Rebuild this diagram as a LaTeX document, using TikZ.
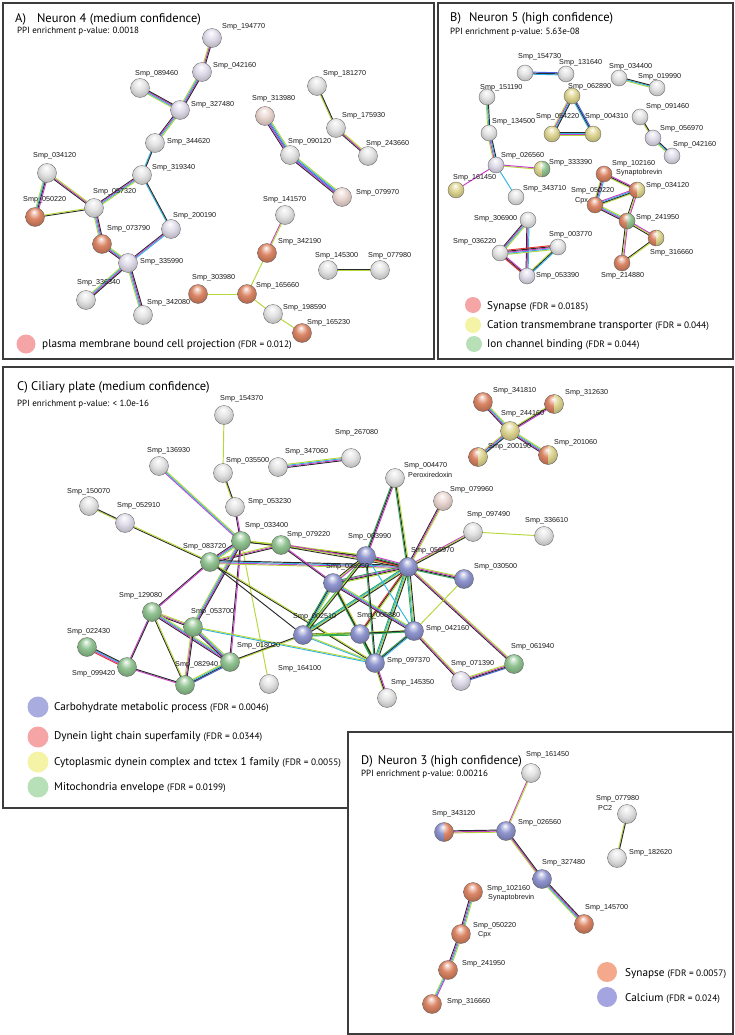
\documentclass[tikz,border=0pt]{standalone}
\usepackage{fontspec}
\setmainfont{Liberation Sans}
\newfontfamily\myr{PT Sans}
\usetikzlibrary{calc}
\pgfdeclarelayer{frames}
\pgfdeclarelayer{edges}
\pgfsetlayers{frames,edges,main}
\definecolor{ek}{HTML}{2A2A2A}
\definecolor{em}{HTML}{C840C8}
\definecolor{ec}{HTML}{30B4E6}
\definecolor{el}{HTML}{B4D838}
\definecolor{eb}{HTML}{4862E0}
\definecolor{er}{HTML}{E63232}
\definecolor{eg}{HTML}{2EA652}
\definecolor{nw}{HTML}{E2E2E2}
\definecolor{ntp}{HTML}{E8D4CE}
\definecolor{ntv}{HTML}{DEDAE8}
\definecolor{nred}{HTML}{D9805F}
\definecolor{nyel}{HTML}{DCD38C}
\definecolor{ngrn}{HTML}{8CC08C}
\definecolor{nblu}{HTML}{8A90CC}
\definecolor{lpink}{HTML}{F5A5A5}
\definecolor{lyel}{HTML}{F5F3A5}
\definecolor{lgrn}{HTML}{B8E0B8}
\definecolor{lblu}{HTML}{A8ACDE}
\definecolor{lsal}{HTML}{F5A98C}
\definecolor{lcal}{HTML}{A4A4E0}
\definecolor{frm}{HTML}{3C3C3C}
\makeatletter
\pgfdeclareradialshading[tikz@ball]{sball}{\pgfqpoint{-3bp}{14bp}}{%
 color(0bp)=(white); color(5bp)=(tikz@ball!35!white); color(15bp)=(tikz@ball!95!white); color(27bp)=(tikz@ball!85!black); color(36bp)=(tikz@ball!62!black); color(50bp)=(tikz@ball!40!black)}
\makeatother
\newcommand\fdrf{\myr\fontsize{9.3}{11}\selectfont}
\newcommand\lk[3]{%
  \gdef\lkn{0}%
  \foreach \c in {#3}{\xdef\lkn{\the\numexpr\lkn+1\relax}}%
  \foreach \c [count=\i] in {#3}{%
    \pgfmathsetmacro\lko{(\i-(\lkn+1)/2)*1.05}%
    \draw[draw=\c, lnk] ($(#1)!\lko pt!90:(#2)$) -- ($(#2)!\lko pt!-90:(#1)$);
  }%
}
\begin{document}
\begin{tikzpicture}[x=1pt,y=-1pt,
  nd/.style={circle, inner sep=0pt, minimum size=19pt, ball color=#1, shading=sball, draw=black!60, line width=0.35pt},
  ndb/.style={nd=#1, minimum size=16pt},
  spl/.style 2 args={nd=#1, path picture={\clip ($(path picture bounding box.center)+(0,-12)$) rectangle ($(path picture bounding box.center)+(12,12)$); \shade[ball color=#2, shading=sball] (path picture bounding box.center) circle[radius=9.5pt];}},
  sps/.style 2 args={ndb=#1, path picture={\clip ($(path picture bounding box.center)+(0,-10)$) rectangle ($(path picture bounding box.center)+(10,10)$); \shade[ball color=#2, shading=sball] (path picture bounding box.center) circle[radius=8pt];}},
  lab/.style={font=\fontsize{7.2}{8}\selectfont, inner sep=0pt, anchor=west, text=black!90},
  lnk/.style={line width=0.95pt},
  ttl/.style={font=\myr\fontsize{12.5}{14}\selectfont, anchor=base west, inner sep=0pt},
  ppi/.style={font=\myr\fontsize{9}{11}\selectfont, anchor=base west, inner sep=0pt},
  leg/.style={font=\myr\fontsize{11.2}{13}\selectfont, anchor=base west, inner sep=0pt},
  lc/.style={circle, inner sep=0pt, minimum size=#1, draw=none},
  pframe/.style={draw=frm, line width=1.6pt},
]
\useasboundingbox (0,0) rectangle (735,1035);
\begin{pgfonlayer}{frames}
\fill[white] (0,0) rectangle (735,1035);
\draw[pframe] (3,3) rectangle (434,359);
\draw[pframe] (438,3) rectangle (733,359);
\draw[pframe] (3,367) rectangle (733,808);
\draw[pframe, fill=white] (348,732) rectangle (733,1034);
\end{pgfonlayer}

% ---------------- Panel A ----------------
\node[ttl] (tA) at (15,23) {A)\hspace{11pt}Neuron 4 (medium confidence)};
\node[ppi] (pA) at (17,34) {PPI enrichment p-value: 0.0018};
\node[nd=ntv] (a194770) at (212,38) {};  \node[lab] (la194770) at (222,27) {Smp\_194770};
\node[nd=ntv] (a042160) at (202,72) {};  \node[lab] (la042160) at (213,66) {Smp\_042160};
\node[nd=nw] (a089460) at (140,88) {};   \node[lab] (la089460) at (135,74) {Smp\_089460};
\node[nd=ntv] (a327480) at (180,110) {}; \node[lab] (la327480) at (191,105) {Smp\_327480};
\node[nd=nw] (a344620) at (155,143) {};  \node[lab] (la344620) at (167,142) {Smp\_344620};
\node[nd=nw] (a319340) at (142,175) {};  \node[lab] (la319340) at (152,168) {Smp\_319340};
\node[nd=nw] (a034120) at (47,173) {};   \node[lab] (la034120) at (33,156) {Smp\_034120};
\node[nd=nred] (a050220) at (35,217) {}; \node[lab] (la050220) at (23,200) {Smp\_050220};
\node[nd=nw] (a057320) at (94,208) {};   \node[lab] (la057320) at (93,192) {Smp\_057320};
\node[nd=ntv] (a200190) at (171,229) {}; \node[lab] (la200190) at (173,216) {Smp\_200190};
\node[nd=nred] (a073790) at (102,244) {};\node[lab] (la073790) at (107,229) {Smp\_073790};
\node[nd=ntv] (a335990) at (128,263) {}; \node[lab] (la335990) at (140,262) {Smp\_335990};
\node[nd=nw] (a336340) at (86,300) {};   \node[lab] (la336340) at (77,283) {Smp\_336340};
\node[nd=nw] (a342080) at (143,315) {};  \node[lab] (la342080) at (147,303) {Smp\_342080};
\node[nd=ntp] (a313980) at (265,116) {}; \node[lab] (la313980) at (252,99) {Smp\_313980};
\node[nd=nw] (a090120) at (290,155) {};  \node[lab] (la090120) at (288,142) {Smp\_090120};
\node[nd=ntp] (a079970) at (342,197) {}; \node[lab] (la079970) at (356,193) {Smp\_079970};
\node[nd=nw] (a181270) at (317,86) {};   \node[lab] (la181270) at (323,74) {Smp\_181270};
\node[nd=nw] (a175930) at (336,128) {};  \node[lab] (la175930) at (342,116) {Smp\_175930};
\node[nd=nw] (a243660) at (368,156) {};  \node[lab] (la243660) at (366,144) {Smp\_243660};
\node[nd=nw] (a141570) at (285,215) {};  \node[lab] (la141570) at (263,200) {Smp\_141570};
\node[nd=nred] (a342190) at (267,253) {};\node[lab] (la342190) at (278,242) {Smp\_342190};
\node[nd=nw] (a145300) at (328,270) {};  \node[lab] (la145300) at (315,256) {Smp\_145300};
\node[nd=nw] (a077980) at (380,270) {};  \node[lab] (la077980) at (368,256) {Smp\_077980};
\node[nd=nred] (a303980) at (198,294) {};\node[lab] (la303980) at (192,278) {Smp\_303980};
\node[nd=nred] (a165660) at (247,294) {};\node[lab] (la165660) at (256,286) {Smp\_165660};
\node[nd=nw] (a198590) at (273,314) {};  \node[lab] (la198590) at (283,308) {Smp\_198590};
\node[nd=nred] (a165230) at (302,333) {};\node[lab] (la165230) at (307,323) {Smp\_165230};
\node[lc=19pt, fill=lpink] (lcA) at (26,344) {};
\node[leg] (lgA) at (42,347) {plasma membrane bound cell projection {\fdrf(FDR = 0.012)}};

% ---------------- Panel B ----------------
\node[ttl] (tB) at (450,22) {B)\hspace{8pt}Neuron 5 (high confidence)};
\node[ppi] (pB) at (450,35) {PPI enrichment p-value: 5.63e-08};
\node[ndb=nw] (b154730) at (525,73) {};  \node[lab] (lb154730) at (518,57) {Smp\_154730};
\node[ndb=nw] (b131640) at (566,74) {};  \node[lab] (lb131640) at (559,63) {Smp\_131640};
\node[ndb=nw] (b034400) at (619,78) {};  \node[lab] (lb034400) at (609,67) {Smp\_034400};
\node[ndb=nw] (b019990) at (657,88) {};  \node[lab] (lb019990) at (638,77) {Smp\_019990};
\node[ndb=nw] (b151190) at (487,97) {};  \node[lab] (lb151190) at (480,88) {Smp\_151190};
\node[ndb=nyel] (b062890) at (572,96) {};\node[lab] (lb062890) at (568,87) {Smp\_062890};
\node[ndb=nw] (b134500) at (489,133) {}; \node[lab] (lb134500) at (492,122) {Smp\_134500};
\node[ndb=nyel] (b054220) at (552,134) {};\node[lab] (lb054220) at (536,117) {Smp\_054220};
\node[ndb=nyel] (b004310) at (593,134) {};\node[lab] (lb004310) at (585,117) {Smp\_004310};
\node[ndb=nw] (b091460) at (640,117) {}; \node[lab] (lb091460) at (646,107) {Smp\_091460};
\node[ndb=ntv] (b056970) at (653,138) {};\node[lab] (lb056970) at (660,129) {Smp\_056970};
\node[ndb=ntv] (b042160) at (672,156) {};\node[lab] (lb042160) at (673,145) {Smp\_042160};
\node[ndb=ntv] (b026560) at (496,165) {};\node[lab] (lb026560) at (501,156) {Smp\_026560};
\node[sps={nyel}{ngrn}] (b333390) at (542,169) {};\node[lab] (lb333390) at (549,163) {Smp\_333390};
\node[ndb=nyel] (b161450) at (456,190) {};\node[lab] (lb161450) at (453,178) {Smp\_161450};
\node[ndb=nw] (b343710) at (516,197) {}; \node[lab] (lb343710) at (523,189) {Smp\_343710};
\node[ndb=nred] (b102160) at (604,174) {};\node[lab] (lb102160) at (612,164) {Smp\_102160};
\node[lab] (lb102160s) at (616,173) {Synaptobrevin};
\node[sps={nred}{nyel}] (b034120) at (637,190) {};\node[lab] (lb034120) at (646,186) {Smp\_034120};
\node[ndb=nred] (b050220) at (595,205) {};\node[lab] (lb050220) at (571,191) {Smp\_050220};
\node[lab] (lb050220c) at (575,201) {Cpx};
\node[sps={nred}{ngrn}] (b241950) at (627,221) {};\node[lab] (lb241950) at (636,218) {Smp\_241950};
\node[sps={nred}{nyel}] (b316660) at (656,238) {};\node[lab] (lb316660) at (650,253) {Smp\_316660};
\node[ndb=nred] (b214880) at (622,263) {};\node[lab] (lb214880) at (601,276) {Smp\_214880};
\node[ndb=nw] (b306900) at (528,220) {}; \node[lab] (lb306900) at (474,219) {Smp\_306900};
\node[ndb=nw] (b036220) at (500,253) {}; \node[lab] (lb036220) at (453,242) {Smp\_036220};
\node[ndb=nw] (b003770) at (558,247) {}; \node[lab] (lb003770) at (549,235) {Smp\_003770};
\node[ndb=ntv] (b053390) at (527,276) {};\node[lab] (lb053390) at (536,276) {Smp\_053390};
\node[lc=16pt, fill=lpink] (lcB1) at (473,305) {};
\node[lc=16pt, fill=lyel] (lcB2) at (473,325) {};
\node[lc=16pt, fill=lgrn] (lcB3) at (474,344) {};
\node[leg] (lgB1) at (487,309) {Synapse {\fdrf(FDR = 0.0185)}};
\node[leg] (lgB2) at (487,328) {Cation transmembrane transporter {\fdrf(FDR = 0.044)}};
\node[leg] (lgB3) at (487,347) {Ion channel binding {\fdrf(FDR = 0.044)}};

% ---------------- Panel C ----------------
\node[ttl] (tC) at (17,390) {C) Ciliary plate (medium confidence)};
\node[ppi] (pC) at (17,406) {PPI enrichment p-value: < 1.0e-16};
\node[nd=nw] (c154370) at (224,415) {};  \node[lab] (lc154370) at (220,399) {Smp\_154370};
\node[nd=nw] (c136930) at (159,466) {};  \node[lab] (lc136930) at (147,451) {Smp\_136930};
\node[nd=nw] (c035500) at (223,473) {};  \node[lab] (lc035500) at (226,461) {Smp\_035500};
\node[nd=nw] (c347060) at (278,467) {};  \node[lab] (lc347060) at (285,452) {Smp\_347060};
\node[nd=nw] (c267080) at (351,458) {};  \node[lab] (lc267080) at (335,433) {Smp\_267080};
\node[nd=nw] (c150070) at (89,506) {};   \node[lab] (lc150070) at (67,492) {Smp\_150070};
\node[nd=ntv] (c052910) at (125,523) {}; \node[lab] (lc052910) at (117,506) {Smp\_052910};
\node[nd=nw] (c053230) at (235,507) {};  \node[lab] (lc053230) at (248,502) {Smp\_053230};
\node[nd=nw] (c004470) at (395,478) {};  \node[lab] (lc004470) at (404,466) {Smp\_004470};
\node[lab] (lc004470p) at (408,475) {Peroxiredoxin};
\node[nd=ntp] (c079960) at (443,501) {}; \node[lab] (lc079960) at (450,490) {Smp\_079960};
\node[nd=nw] (c097490) at (473,532) {};  \node[lab] (lc097490) at (467,515) {Smp\_097490};
\node[nd=nw] (c336610) at (544,536) {};  \node[lab] (lc336610) at (525,521) {Smp\_336610};
\node[nd=ngrn] (c033400) at (241,541) {};\node[lab] (lc033400) at (245,526) {Smp\_033400};
\node[nd=ngrn] (c079220) at (281,545) {};\node[lab] (lc079220) at (287,535) {Smp\_079220};
\node[nd=ngrn] (c083720) at (210,562) {};\node[lab] (lc083720) at (183,547) {Smp\_083720};
\node[nd=nblu] (c003990) at (366,556) {};\node[lab] (lc003990) at (348,537) {Smp\_003990};
\node[nd=nblu] (c056970) at (408,567) {};\node[lab] (lc056970) at (411,551) {Smp\_056970};
\node[nd=nblu] (c038950) at (333,583) {};\node[lab] (lc038950) at (326,567) {Smp\_038950};
\node[nd=nblu] (c030500) at (464,579) {};\node[lab] (lc030500) at (474,567) {Smp\_030500};
\node[nd=ngrn] (c129080) at (152,612) {};\node[lab] (lc129080) at (119,596) {Smp\_129080};
\node[nd=ngrn] (c053700) at (193,627) {};\node[lab] (lc053700) at (191,612) {Smp\_053700};
\node[nd=nblu] (c002510) at (303,635) {};\node[lab] (lc002510) at (293,617) {Smp\_002510};
\node[nd=nblu] (c005880) at (360,634) {};\node[lab] (lc005880) at (357,616) {Smp\_005880};
\node[nd=nblu] (c042160) at (414,631) {};\node[lab] (lc042160) at (426,629) {Smp\_042160};
\node[nd=ngrn] (c022430) at (87,647) {}; \node[lab] (lc022430) at (67,632) {Smp\_022430};
\node[nd=ngrn] (c018020) at (230,662) {};\node[lab] (lc018020) at (237,646) {Smp\_018020};
\node[nd=ngrn] (c061940) at (514,664) {};\node[lab] (lc061940) at (511,647) {Smp\_061940};
\node[nd=nblu] (c097370) at (375,663) {};\node[lab] (lc097370) at (387,661) {Smp\_097370};
\node[nd=ntv] (c071390) at (461,681) {}; \node[lab] (lc071390) at (451,664) {Smp\_071390};
\node[nd=nw] (c145350) at (387,698) {};  \node[lab] (lc145350) at (391,683) {Smp\_145350};
\node[nd=ngrn] (c099420) at (127,667) {};\node[lab] (lc099420) at (72,674) {Smp\_099420};
\node[nd=ngrn] (c082940) at (185,685) {};\node[lab] (lc082940) at (175,665) {Smp\_082940};
\node[nd=nw] (c164100) at (269,684) {};  \node[lab] (lc164100) at (278,669) {Smp\_164100};
\node[nd=nred] (c341810) at (483,402) {};\node[lab] (lc341810) at (493,391) {Smp\_341810};
\node[spl={nred}{nyel}] (c312630) at (554,404) {};\node[lab] (lc312630) at (565,393) {Smp\_312630};
\node[nd=nyel] (c244160) at (510,431) {};\node[lab] (lc244160) at (501,414) {Smp\_244160};
\node[spl={nred}{nyel}] (c200190) at (478,457) {};\node[lab] (lc200190) at (488,447) {Smp\_200190};
\node[spl={nred}{nyel}] (c201060) at (548,455) {};\node[lab] (lc201060) at (554,443) {Smp\_201060};
\node[lc=21pt, fill=lblu] (lcC1) at (38,707) {};
\node[lc=21pt, fill=lpink] (lcC2) at (38,737) {};
\node[lc=21pt, fill=lyel] (lcC3) at (38,762) {};
\node[lc=21pt, fill=lgrn] (lcC4) at (38,787) {};
\node[leg] (lgC1) at (54,710) {Carbohydrate metabolic process {\fdrf(FDR = 0.0046)}};
\node[leg] (lgC2) at (54,739) {Dynein light chain superfamily {\fdrf(FDR = 0.0344)}};
\node[leg] (lgC3) at (54,765) {Cytoplasmic dynein complex and tctex 1 family {\fdrf(FDR = 0.0055)}};
\node[leg] (lgC4) at (54,790) {Mitochondria envelope {\fdrf(FDR = 0.0199)}};

% ---------------- Panel D ----------------
\node[ttl] (tD) at (361,764) {D)\hspace{5pt}Neuron 3 (high confidence)};
\node[ppi] (pD) at (361,776) {PPI enrichment p-value: 0.00216};
\node[nd=nw] (d161450) at (531,773) {};  \node[lab] (ld161450) at (526,755) {Smp\_161450};
\node[nd=nw] (d077980) at (627,814) {};  \node[lab] (ld077980) at (596,799) {Smp\_077980};
\node[lab] (ld077980p) at (598,808) {PC2};
\node[nd=nw] (d182620) at (617,858) {};  \node[lab] (ld182620) at (629,853) {Smp\_182620};
\node[spl={nblu}{nred}] (d343120) at (444,832) {};\node[lab] (ld343120) at (432,814) {Smp\_343120};
\node[nd=nblu] (d026560) at (506,831) {};\node[lab] (ld026560) at (518,823) {Smp\_026560};
\node[nd=nblu] (d327480) at (542,879) {};\node[lab] (ld327480) at (542,863) {Smp\_327480};
\node[nd=nred] (d102160) at (473,892) {};\node[lab] (ld102160) at (487,889) {Smp\_102160};
\node[lab] (ld102160s) at (488,898) {Synaptobrevin};
\node[nd=nred] (d145700) at (584,924) {};\node[lab] (ld145700) at (585,908) {Smp\_145700};
\node[nd=nred] (d050220) at (461,934) {};\node[lab] (ld050220) at (473,926) {Smp\_050220};
\node[lab] (ld050220c) at (478,935) {Cpx};
\node[nd=nred] (d241950) at (448,970) {};\node[lab] (ld241950) at (462,964) {Smp\_241950};
\node[nd=nred] (d316660) at (432,1004) {};\node[lab] (ld316660) at (447,1002) {Smp\_316660};
\node[lc=20pt, fill=lsal] (lcD1) at (607,972) {};
\node[lc=20pt, fill=lcal] (lcD2) at (607,997) {};
\node[leg] (lgD1) at (625,976) {Synapse {\fdrf(FDR = 0.0057)}};
\node[leg] (lgD2) at (625,1001) {Calcium {\fdrf(FDR = 0.024)}};

\begin{pgfonlayer}{edges}
% A
\lk{a194770}{a042160}{el,em,ek}
\lk{a042160}{a327480}{el,ec,em,ek}
\lk{a089460}{a327480}{el,ec,em,ek}
\lk{a327480}{a344620}{ek,em,ec,el}
\lk{a344620}{a319340}{ec,ek}
\lk{a319340}{a057320}{ek,em,ec,el}
\lk{a319340}{a200190}{ec,ek}
\lk{a034120}{a057320}{ek,em,el}
\lk{a034120}{a050220}{el,ec,ek,em}
\lk{a050220}{a057320}{ek,el}
\lk{a057320}{a073790}{el,ec,em,ek}
\lk{a073790}{a335990}{ek,em,ec,el}
\lk{a200190}{a335990}{ek,em,ec}
\lk{a335990}{a336340}{el,ec,em,ek}
\lk{a335990}{a342080}{el,ec,em,ek}
\lk{a313980}{a090120}{ek,em,eb,ec,el}
\lk{a090120}{a079970}{ek,em,eb,ec,el}
\lk{a181270}{a175930}{el,ek}
\lk{a175930}{a243660}{ek,em,el}
\lk{a141570}{a342190}{em,el}
\lk{a342190}{a165660}{el}
\lk{a303980}{a165660}{el}
\lk{a165660}{a198590}{el}
\lk{a198590}{a165230}{el}
\lk{a145300}{a077980}{el,ek}
% B
\lk{b154730}{b131640}{ec,ek,eb}
\lk{b034400}{b019990}{el,ec,ek}
\lk{b151190}{b134500}{el,ec,ek}
\lk{b134500}{b026560}{el,em,ec,ek}
\lk{b062890}{b054220}{el,em,ec,ek}
\lk{b062890}{b004310}{ec,ek,eb}
\lk{b054220}{b004310}{el,em,ec,ek}
\lk{b091460}{b056970}{el,ek}
\lk{b056970}{b042160}{el,ec,ek}
\lk{b026560}{b333390}{el,em}
\lk{b026560}{b161450}{em}
\lk{b026560}{b343710}{ec}
\lk{b102160}{b034120}{el,ek,em}
\lk{b102160}{b050220}{el,ek,em,ec}
\lk{b050220}{b034120}{el,ek,ec,em}
\lk{b050220}{b241950}{ek,em,ec,el}
\lk{b034120}{b241950}{ek,el,em}
\lk{b241950}{b316660}{ek,el,em}
\lk{b241950}{b214880}{ek,el,em}
\lk{b316660}{b214880}{ek,el}
\lk{b306900}{b036220}{ek,em,ec,el}
\lk{b306900}{b053390}{ek,em,ec}
\lk{b036220}{b003770}{el,ec,em,ek,er}
\lk{b036220}{b053390}{er,ek,em}
\lk{b003770}{b053390}{el,ek,ec}
% C
\lk{c154370}{c035500}{el}
\lk{c136930}{c033400}{em,ec,el}
\lk{c035500}{c053230}{el,ek}
\lk{c053230}{c033400}{ek,em}
\lk{c347060}{c267080}{ek,em,ec,el}
\lk{c150070}{c052910}{el,ek}
\lk{c052910}{c083720}{ek,el}
\lk{c033400}{c083720}{ek,em,ec,el}
\lk{c033400}{c079220}{ek,el}
\lk{c083720}{c079220}{ek,em,el}
\lk{c083720}{c129080}{ek,em}
\lk{c033400}{c053700}{el,ec,em,ek}
\lk{c033400}{c018020}{ek,em}
\lk{c033400}{c164100}{el}
\lk{c083720}{c097370}{ek,el}
\lk{c083720}{c002510}{ek}
\lk{c083720}{c056970}{el,em,ec,ek}
\lk{c033400}{c003990}{ek,el}
\lk{c079220}{c003990}{ek,el}
\lk{c079220}{c056970}{ek,el,em}
\lk{c079220}{c038950}{ek,em}
\lk{c129080}{c053700}{ek,em,el}
\lk{c129080}{c082940}{ek,el}
\lk{c129080}{c099420}{em,ek}
\lk{c129080}{c018020}{ek,em,ec,el}
\lk{c022430}{c099420}{er,em,ec,ek}
\lk{c099420}{c082940}{em,ek}
\lk{c053700}{c082940}{el,em,ek}
\lk{c082940}{c018020}{eb,ek,ec,el}
\lk{c053700}{c018020}{ek,em,ec,el}
\lk{c018020}{c002510}{el,ek}
\lk{c053700}{c097370}{ec,el}
\lk{c004470}{c003990}{eg,ek,em}
\lk{c004470}{c056970}{eg,ek,el}
\lk{c079960}{c056970}{ek,em,el}
\lk{c097490}{c056970}{em,el,ek}
\lk{c097490}{c336610}{el}
\lk{c003990}{c056970}{er,ek,eg,em}
\lk{c003990}{c038950}{ek,el,em}
\lk{c056970}{c038950}{eg,em,ek,el}
\lk{c056970}{c030500}{eg,ek,em,el}
\lk{c056970}{c002510}{eg,ec,el,ek}
\lk{c056970}{c005880}{er,ek,el}
\lk{c056970}{c042160}{eg,ec,el,ek}
\lk{c056970}{c097370}{eg,ec,el,ek}
\lk{c056970}{c061940}{ek,em,el}
\lk{c030500}{c042160}{el}
\lk{c038950}{c002510}{eg,ek,ec,el}
\lk{c038950}{c005880}{ek,em}
\lk{c038950}{c042160}{ek,em,ec,el}
\lk{c038950}{c097370}{eg,ek,el}
\lk{c003990}{c002510}{eg,el,ek}
\lk{c003990}{c097370}{eg,ek}
\lk{c003990}{c042160}{ec}
\lk{c002510}{c005880}{eg,el,ek}
\lk{c002510}{c042160}{eg,el}
\lk{c002510}{c097370}{ec,el}
\lk{c005880}{c042160}{eg,ek}
\lk{c005880}{c097370}{eg,ek}
\lk{c042160}{c097370}{eg,ek,ec}
\lk{c042160}{c071390}{ek,em,el}
\lk{c071390}{c061940}{eb,ek,em,el}
\lk{c097370}{c145350}{el,ek,em}
\lk{c341810}{c244160}{ek,em,ec,el}
\lk{c312630}{c244160}{el,ek,em}
\lk{c244160}{c200190}{el,em,ec,ek}
\lk{c244160}{c201060}{ek,em,ec,el}
% D
\lk{d161450}{d026560}{em,el}
\lk{d343120}{d026560}{el,em,ek}
\lk{d026560}{d327480}{el,em,ek}
\lk{d327480}{d145700}{el,ec,em,ek}
\lk{d077980}{d182620}{el,ek}
\lk{d102160}{d050220}{ek,em,ec,el}
\lk{d050220}{d241950}{ek,em,ec,el}
\lk{d241950}{d316660}{el,ec,em}
\end{pgfonlayer}
\end{tikzpicture}
\end{document}
